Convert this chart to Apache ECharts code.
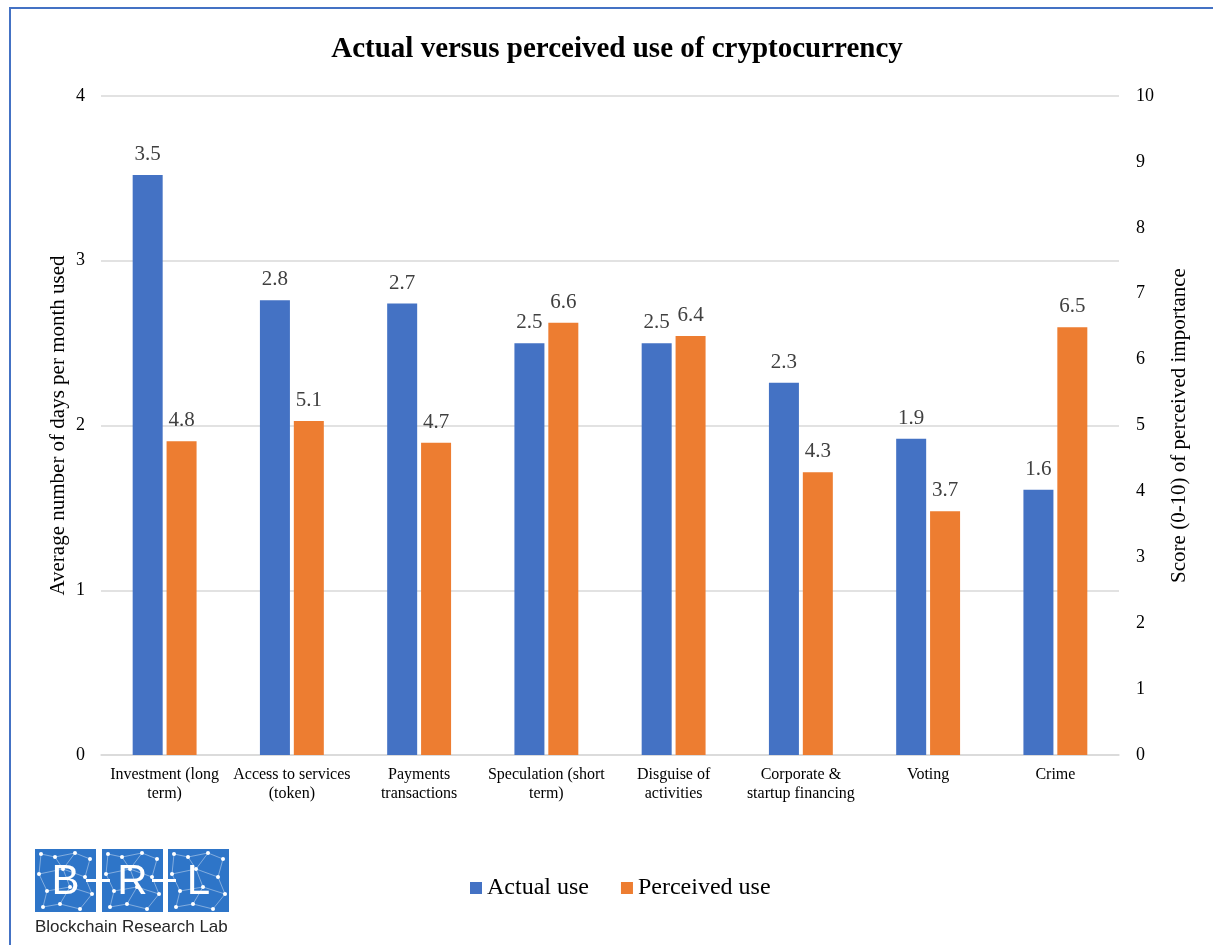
<!DOCTYPE html>
<html>
<head>
<meta charset="utf-8">
<script src="https://cdn.jsdelivr.net/npm/echarts@6/dist/echarts.min.js"></script>
<style>
html,body{margin:0;padding:0;background:#fff;}
#chart{width:1213px;height:945px;}
</style>
</head>
<body>
<div id="chart"></div>
<script>
const categories = [
  "Investment (long\nterm)",
  "Access to services\n(token)",
  "Payments\ntransactions",
  "Speculation (short\nterm)",
  "Disguise of\nactivities",
  "Corporate &\nstartup financing",
  "Voting",
  "Crime"
];
const actualUse = [3.52, 2.76, 2.74, 2.50, 2.50, 2.26, 1.92, 1.61];
const perceivedUse = [4.76, 5.07, 4.74, 6.56, 6.36, 4.29, 3.70, 6.49];
const leftTicks = [0, 1, 2, 3, 4];
const rightTicks = [0, 1, 2, 3, 4, 5, 6, 7, 8, 9, 10];

const serif = '"Liberation Serif", "Times New Roman", serif';
const sans = '"Liberation Sans", Arial, sans-serif';
const blue = '#4472C4';
const orange = '#ED7D31';

// logo network decoration
function netSquare(x0, y0) {
  const pts = [[6,5],[20,8],[40,4],[55,10],[4,25],[28,20],[50,28],[12,42],[35,38],[57,45],[8,58],[25,55],[45,60]];
  const links = [[0,1],[1,2],[2,3],[0,4],[1,5],[2,5],[3,6],[4,5],[5,6],[4,7],[5,8],[6,9],[7,8],[8,9],[7,10],[8,11],[9,12],[10,11],[11,12]];
  const els = [];
  links.forEach(l => {
    els.push({type:'line', shape:{x1:x0+pts[l[0]][0], y1:y0+pts[l[0]][1], x2:x0+pts[l[1]][0], y2:y0+pts[l[1]][1]},
      style:{stroke:'rgba(255,255,255,0.4)', lineWidth:1}});
  });
  pts.forEach(p => {
    els.push({type:'circle', shape:{cx:x0+p[0], cy:y0+p[1], r:2}, style:{fill:'#fff'}});
  });
  return els;
}

const logoEls = [];
[[35,'B'],[102,'R'],[168,'L']].forEach(s => {
  logoEls.push({type:'rect', shape:{x:s[0], y:849, width:61, height:63}, style:{fill:'#2E75C8'}});
  netSquare(s[0], 849).forEach(e => logoEls.push(e));
  logoEls.push({type:'text', style:{text:s[1], x:s[0]+30.5, y:882, fill:'#fff', font:'42px ' + sans, align:'center', verticalAlign:'middle'}});
});
logoEls.push({type:'rect', shape:{x:86, y:879, width:24, height:3}, style:{fill:'#fff'}});
logoEls.push({type:'rect', shape:{x:152, y:879, width:24, height:3}, style:{fill:'#fff'}});
logoEls.push({type:'text', style:{text:'Blockchain Research Lab', x:35, y:927, fill:'#262626', font:'17px ' + sans, align:'left', verticalAlign:'middle'}});

const chart = echarts.init(document.getElementById('chart'));
chart.setOption({
  backgroundColor: '#fff',
  animation: false,
  textStyle: {fontFamily: serif},
  title: {
    text: 'Actual versus perceived use of cryptocurrency',
    left: 612,
    textAlign: 'center',
    top: 30,
    textStyle: {fontFamily: serif, fontSize: 29, fontWeight: 'bold', color: '#000'}
  },
  legend: {
    data: ['Actual use', 'Perceived use'],
    left: 465,
    top: 871,
    itemWidth: 12,
    itemHeight: 12,
    itemGap: 32,
    icon: 'rect',
    textStyle: {fontFamily: serif, fontSize: 24, color: '#000'}
  },
  grid: {left: 101, right: 94, top: 96, bottom: 190, containLabel: false},
  xAxis: {
    type: 'category',
    data: categories,
    axisLine: {lineStyle: {color: '#D9D9D9', width: 1.5}},
    axisTick: {show: false},
    axisLabel: {fontFamily: serif, fontSize: 16, color: '#000', margin: 10, lineHeight: 19, interval: 0}
  },
  yAxis: [
    {
      type: 'value', min: 0, max: 4, interval: 1,
      name: 'Average number of days per month used',
      nameLocation: 'middle', nameGap: 32, nameRotate: 90, nameMoveOverlap: false,
      nameTextStyle: {fontFamily: serif, fontSize: 21, color: '#000'},
      axisLine: {show: false}, axisTick: {show: false},
      axisLabel: {fontFamily: serif, fontSize: 18, color: '#000', margin: 16,
        formatter: v => leftTicks.includes(v) ? String(v) : ''},
      splitLine: {lineStyle: {color: '#D9D9D9', width: 1.5}}
    },
    {
      type: 'value', min: 0, max: 10, interval: 1,
      name: 'Score (0-10) of perceived importance',
      nameLocation: 'middle', nameGap: 50, nameRotate: 90,
      nameTextStyle: {fontFamily: serif, fontSize: 21, color: '#000'},
      axisLine: {show: false}, axisTick: {show: false},
      axisLabel: {fontFamily: serif, fontSize: 18, color: '#000', margin: 17,
        formatter: v => rightTicks.includes(v) ? String(v) : ''},
      splitLine: {show: false}
    }
  ],
  series: [
    {
      name: 'Actual use', type: 'bar', yAxisIndex: 0, data: actualUse,
      barWidth: 30, barGap: '13%',
      itemStyle: {color: blue},
      label: {show: true, position: 'top', distance: 10, fontFamily: serif, fontSize: 21, color: '#404040',
        formatter: p => p.value.toFixed(1)}
    },
    {
      name: 'Perceived use', type: 'bar', yAxisIndex: 1, data: perceivedUse,
      barWidth: 30, barGap: '13%',
      itemStyle: {color: orange},
      label: {show: true, position: 'top', distance: 10, fontFamily: serif, fontSize: 21, color: '#404040',
        formatter: p => p.value.toFixed(1)}
    }
  ],
  graphic: [
    {type:'rect', shape:{x:10, y:8, width:1230, height:960}, style:{fill:'none', stroke:'#4472C4', lineWidth:2}, silent:true},
    {type:'group', children: logoEls, silent:true}
  ]
});
</script>
</body>
</html>
